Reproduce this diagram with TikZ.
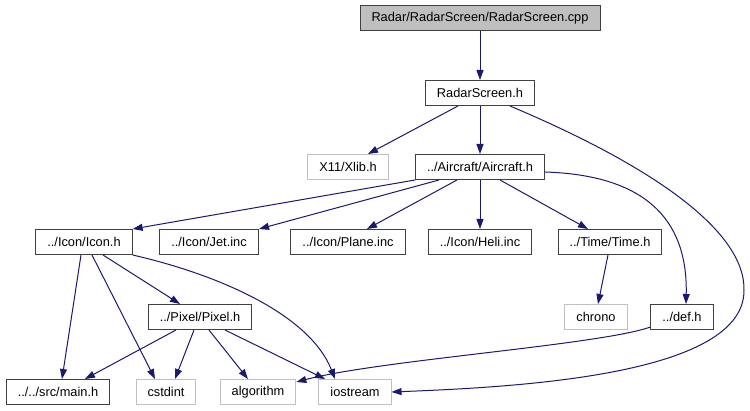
\documentclass[tikz,border=0pt]{standalone}
\usepackage{fontspec}
\setmainfont{Liberation Sans}
\usetikzlibrary{arrows.meta}
\definecolor{edgeblue}{HTML}{191970}
\definecolor{boxgray}{HTML}{BFBFBF}
\definecolor{boxline}{HTML}{404040}

\begin{document}
\begin{tikzpicture}[x=1pt,y=-1pt,
    file/.style={draw=boxline, line width=1pt, minimum height=25pt,
        inner xsep=11.5pt, inner ysep=0pt, font=\fontsize{12.8}{15}\selectfont},
    sysfile/.style={file, draw=boxgray},
    dep/.style={draw=edgeblue, line width=1pt,
        -{Triangle[length=10pt,width=7pt]}}]
        \useasboundingbox (0,0) rectangle (750,411);

        % soubory
        \node[file, fill=boxgray] (cpp) at (480,18) {Radar/RadarScreen/RadarScreen.cpp};
        \node[file] (rs) at (480,93) {RadarScreen.h};
        \node[sysfile] (xlib) at (348,167) {X11/Xlib.h};
        \node[file] (ac) at (480,167) {../Aircraft/Aircraft.h};
        \node[file] (icon) at (84,242) {../Icon/Icon.h};
        \node[file] (jet) at (209,242) {../Icon/Jet.inc};
        \node[file] (plane) at (348,242) {../Icon/Plane.inc};
        \node[file] (heli) at (480,242) {../Icon/Heli.inc};
        \node[file] (tm) at (610,242) {../Time/Time.h};
        \node[file] (px) at (200,317) {../Pixel/Pixel.h};
        \node[sysfile] (chr) at (596,317) {chrono};
        \node[file] (def) at (682,317) {../def.h};
        \node[file] (main) at (58,392) {../../src/main.h};
        \node[sysfile] (cst) at (166,392) {cstdint};
        \node[sysfile] (alg) at (258,392) {algorithm};
        \node[sysfile] (io) at (355,392) {iostream};

        % RadarScreen
        \draw[dep] (cpp.south) -- (rs.north);
        \draw[dep] ([xshift=-22pt]rs.south) -- ([xshift=20pt]xlib.north);
        \draw[dep] (rs.south) -- (ac.north);
        \draw[dep] ([xshift=30pt]rs.south) .. controls (650,165) and (745,230) .. (744,290)
            .. controls (745,375) and (520,387) .. (io.east);

        % Aircraft
        \draw[dep] (ac.south west) -- (icon.north east);
        \draw[dep] ([xshift=24pt]ac.south west) -- ([xshift=50pt]jet.north);
        \draw[dep] ([xshift=-23pt]ac.south) -- ([xshift=19pt]plane.north);
        \draw[dep] (ac.south) -- (heli.north);
        \draw[dep] ([xshift=20pt]ac.south) -- ([xshift=-22pt]tm.north);
        \draw[dep] ([yshift=-5pt]ac.east) .. controls (640,175) and (688,215) .. ([xshift=4pt]def.north);

        % Icon a Time
        \draw[dep] ([xshift=-3pt]icon.south) -- ([xshift=4pt]main.north);
        \draw[dep] ([xshift=8pt]icon.south) -- ([xshift=-11pt]cst.north);
        \draw[dep] ([xshift=19pt]icon.south) -- ([xshift=-20pt]px.north);
        \draw[dep] (icon.south east) .. controls (220,275) and (310,315) .. ([xshift=-20pt]io.north);
        \draw[dep] ([xshift=-2pt]tm.south) -- ([xshift=2pt]chr.north);
        \draw[dep] ([yshift=3pt]def.south west) .. controls (600,345) and (380,360) .. ([yshift=-3pt]alg.north east);

        % Pixel
        \draw[dep] ([xshift=-24pt]px.south) -- ([xshift=27pt]main.north);
        \draw[dep] ([xshift=-6pt]px.south) -- ([xshift=9pt]cst.north);
        \draw[dep] ([xshift=9pt]px.south) -- ([xshift=-10pt]alg.north);
        \draw[dep] ([xshift=25pt]px.south) -- ([xshift=-30pt]io.north);
\end{tikzpicture}
\end{document}
